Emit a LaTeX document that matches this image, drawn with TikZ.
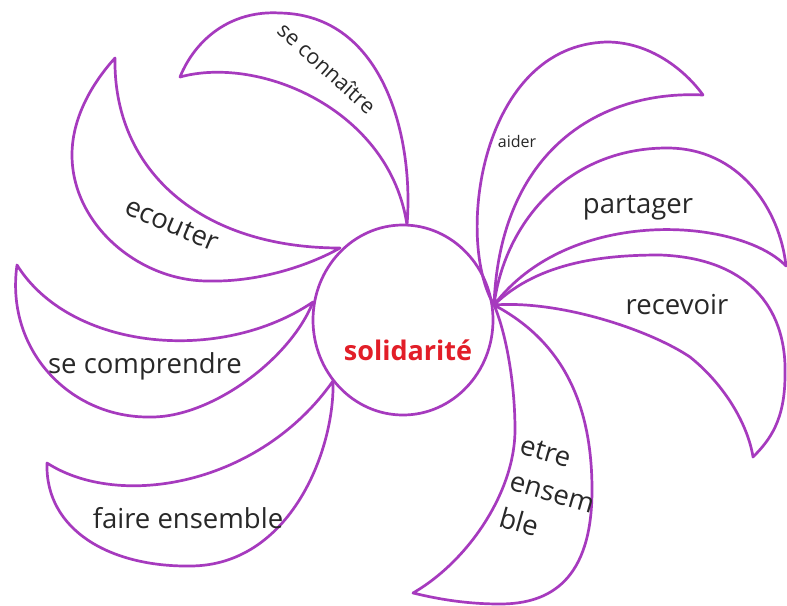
\documentclass[tikz,border=0pt]{standalone}
\usepackage{fontspec}
\setmainfont{Open Sans}
\usetikzlibrary{shapes.geometric}
\definecolor{petal}{RGB}{166,58,190}
\definecolor{solred}{RGB}{226,30,40}
\definecolor{txt}{RGB}{40,40,40}
\begin{document}
\begin{tikzpicture}[x=1pt,y=-1pt,
  petalline/.style={draw=petal, line width=2.7pt, line join=round, line cap=round},
  lbl/.style={text=txt, inner sep=0pt, font=\fontsize{27.5}{38}\selectfont},
  smalllbl/.style={text=txt, inner sep=0pt, font=\fontsize{16}{18}\selectfont}]
\useasboundingbox (0,0) rectangle (787,605);
\fill[white] (0,0) rectangle (787,605);

% centre
\node[draw=petal, line width=2.7pt, ellipse, minimum width=180pt, minimum height=190pt, inner sep=0pt] (centre) at (403,320) {};

% base and tip points
\coordinate (hub) at (494,305);
\coordinate (bConn) at (407,225);  \coordinate (tConn) at (180,77);
\coordinate (bEcou) at (340,248);  \coordinate (tEcou) at (115,58);
\coordinate (bComp) at (313,302);  \coordinate (tComp) at (17,265);
\coordinate (bFair) at (333,381);  \coordinate (tFair) at (47,463);
\coordinate (tAide) at (703,95);
\coordinate (tPart) at (786,266);
\coordinate (tRece) at (753,457);
\coordinate (tEtre) at (413,593);

% se connaitre
\draw[petalline] (bConn) .. controls (414,140) and (385,15) .. (280,13)
                         .. controls (230,10) and (195,40) .. (tConn)
                         .. controls (260,55) and (390,110) .. (bConn);
% ecouter
\draw[petalline] (bEcou) .. controls (310,265) and (260,282) .. (210,281)
                         .. controls (140,282) and (72,225) .. (72,155)
                         .. controls (72,115) and (95,80) .. (tEcou)
                         .. controls (113,170) and (200,248) .. (bEcou);
% se comprendre
\draw[petalline] (bComp) .. controls (290,360) and (210,418) .. (150,417)
                         .. controls (70,418) and (5,350) .. (tComp)
                         .. controls (70,350) and (220,365) .. (bComp);
% faire ensemble
\draw[petalline] (bFair) .. controls (335,450) and (290,566) .. (190,566)
                         .. controls (110,567) and (45,530) .. (tFair)
                         .. controls (120,510) and (260,485) .. (bFair);
% aider
\draw[petalline] (hub) .. controls (455,240) and (480,45) .. (607,42)
                       .. controls (650,42) and (685,70) .. (tAide)
                       .. controls (600,90) and (500,150) .. (hub);
% partager
\draw[petalline] (hub) .. controls (505,220) and (570,148) .. (667,148)
                       .. controls (740,148) and (780,210) .. (tPart)
                       .. controls (740,218) and (570,205) .. (hub);
% recevoir
\draw[petalline] (hub) .. controls (540,260) and (610,255) .. (660,255)
                       .. controls (745,258) and (787,305) .. (785,375)
                       .. controls (785,420) and (770,440) .. (tRece)
                       .. controls (748,425) and (725,385) .. (690,357)
                       .. controls (650,330) and (560,300) .. (hub);
% etre ensemble
\draw[petalline] (hub) .. controls (560,340) and (592,400) .. (592,490)
                       .. controls (592,580) and (550,604) .. (500,604)
                       .. controls (460,604) and (430,597) .. (tEtre)
                       .. controls (470,560) and (515,490) .. (515,430)
                       .. controls (515,380) and (505,330) .. (hub);

% labels
\node[text=solred, inner sep=0pt, font=\fontsize{27}{29}\selectfont\bfseries] (sol) at (408,350) {solidarité};
\node[lbl, font=\fontsize{21.5}{23}\selectfont, rotate=-42] (lConn) at (327,68) {se connaître};
\node[lbl, rotate=-23] (lEcou) at (172,224) {ecouter};
\node[lbl] (lComp) at (145,366) {se comprendre};
\node[lbl] (lFair) at (188,518) {faire ensemble};
\node[smalllbl] (lAide) at (517,141) {aider};
\node[lbl] (lPart) at (638,208) {partager};
\node[lbl] (lRece) at (677,305) {recevoir};
\node[lbl, align=left, rotate=-16] (lEtre) at (552,493) {etre\\ensem\\ble};
\end{tikzpicture}
\end{document}
